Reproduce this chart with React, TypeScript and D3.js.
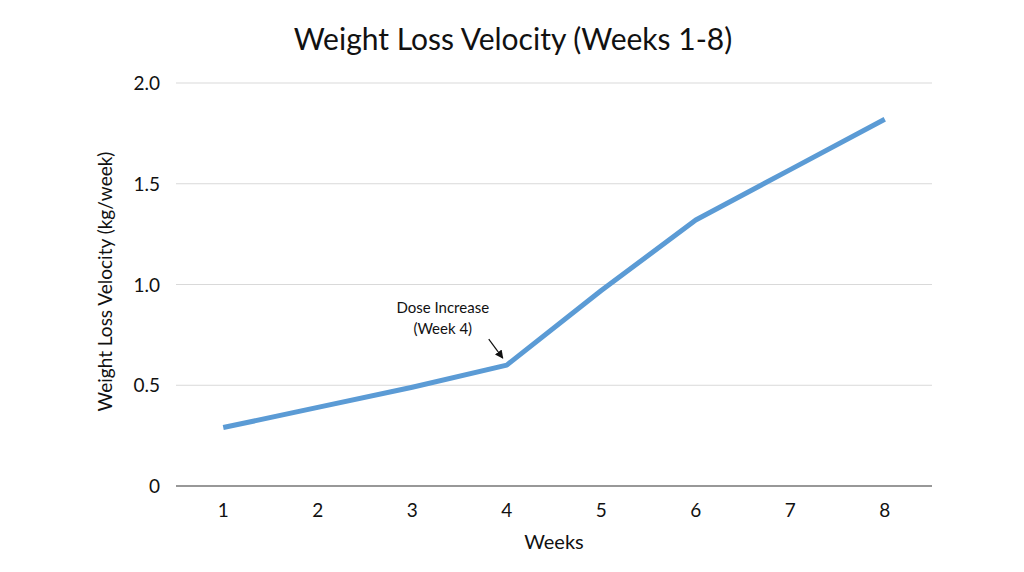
import React from "react";
import * as d3 from "d3";

const weeks = [1, 2, 3, 4, 5, 6, 7, 8];
const velocity = [0.29, 0.39, 0.49, 0.6, 0.97, 1.32, 1.57, 1.82];
const yTicks = [0, 0.5, 1.0, 1.5, 2.0];

const W = 1024;
const H = 572;
const margin = { top: 83, right: 92, bottom: 86, left: 176 };
const font = "Lato, 'Open Sans', sans-serif";

export default function App() {
  const x = d3
    .scaleLinear()
    .domain([0.5, 8.5])
    .range([margin.left, W - margin.right]);
  const y = d3
    .scaleLinear()
    .domain([0, 2])
    .range([H - margin.bottom, margin.top]);

  const line = d3
    .line<number>()
    .x((_, i) => x(weeks[i]))
    .y((d) => y(d));

  const ax = x(4);
  const ay = y(velocity[3]);

  return (
    <svg width={W} height={H} style={{ position: "absolute", left: 0, top: 0, background: "#fff" }} fontFamily={font}>
      <defs>
        <marker id="arr" viewBox="0 0 10 10" refX="9" refY="5" markerWidth="7" markerHeight="7" orient="auto">
          <path d="M0,0 L10,5 L0,10 z" fill="#111" />
        </marker>
      </defs>
      <text x={513} y={50} textAnchor="middle" fontSize={30} fill="#111">
        Weight Loss Velocity (Weeks 1-8)
      </text>
      {yTicks.map((t) => (
        <g key={t}>
          <line
            x1={margin.left}
            x2={W - margin.right}
            y1={y(t)}
            y2={y(t)}
            stroke={t === 0 ? "#333" : "#d9d9d9"}
            strokeWidth={t === 0 ? 1.2 : 1}
          />
          <text x={margin.left - 16} y={y(t) + 7} textAnchor="end" fontSize={19} fill="#111">
            {t === 0 ? "0" : d3.format(".1f")(t)}
          </text>
        </g>
      ))}
      {weeks.map((w) => (
        <text key={w} x={x(w)} y={H - margin.bottom + 31} textAnchor="middle" fontSize={19} fill="#111">
          {w}
        </text>
      ))}
      <text x={x(4.5)} y={549} textAnchor="middle" fontSize={20} fill="#111">
        Weeks
      </text>
      <text
        transform={`translate(112,${y(1) - 3}) rotate(-90)`}
        textAnchor="middle"
        fontSize={19}
        fill="#111"
      >
        Weight Loss Velocity (kg/week)
      </text>
      <path d={line(velocity) ?? ""} fill="none" stroke="#5b9bd5" strokeWidth={5} strokeLinejoin="round" />
      <text x={ax - 64} y={ay - 52} textAnchor="middle" fontSize={15} fill="#111">
        Dose Increase
      </text>
      <text x={ax - 64} y={ay - 31} textAnchor="middle" fontSize={15} fill="#111">
        (Week 4)
      </text>
      <line x1={ax - 18} y1={ay - 26} x2={ax - 4} y2={ay - 7} stroke="#111" strokeWidth={1.2} markerEnd="url(#arr)" />
    </svg>
  );
}
